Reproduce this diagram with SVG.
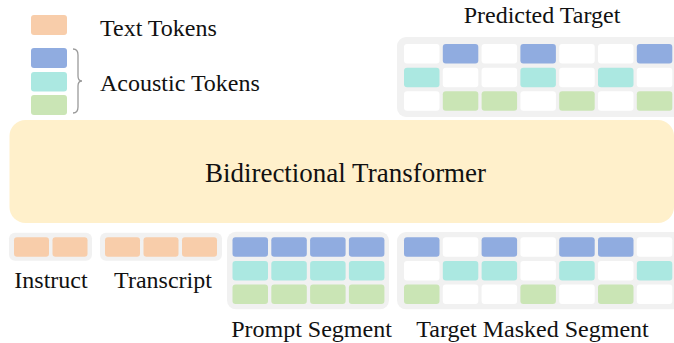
<svg xmlns="http://www.w3.org/2000/svg" width="674" height="343" viewBox="0 0 674 343">
<style>
.t{font-family:"Liberation Serif","Times New Roman",serif;font-size:24px;fill:#111}
.bg{fill:#F1F1F1}
.o{fill:#F8CDAA}
.b{fill:#90ACE0}
.y{fill:#ABE8E1}
.g{fill:#CAE5B5}
.w{fill:#FFFFFF}
</style>
<defs>
<rect id="cell" width="35.5" height="19.5" rx="3"/>
</defs>
<rect width="674" height="343" fill="#FFFFFF"/>

<g id="legend">
<rect x="31" y="15" width="36" height="20" rx="3" class="o"/>
<rect x="31" y="48" width="36" height="20" rx="3" class="b"/>
<rect x="31" y="72" width="36" height="19.5" rx="3" class="y"/>
<rect x="31" y="95" width="36" height="20" rx="3" class="g"/>
<path d="M73,49 Q78,49 78,55 L78,76 Q78,81 82,81 Q78,81 78,86 L78,107 Q78,113 73,113" fill="none" stroke="#9a9a9a" stroke-width="1.3"/>
<text class="t" x="100" y="35.7">Text Tokens</text>
<text class="t" x="100" y="90.7">Acoustic Tokens</text>
</g>

<g id="predicted-target">
<text class="t" x="542" y="22.5" text-anchor="middle">Predicted Target</text>
<rect x="397" y="37" width="290" height="80" rx="9" class="bg"/>
<use href="#cell" x="404" y="44" class="w"/>
<use href="#cell" x="442.8" y="44" class="b"/>
<use href="#cell" x="481.6" y="44" class="w"/>
<use href="#cell" x="520.4" y="44" class="b"/>
<use href="#cell" x="559.2" y="44" class="w"/>
<use href="#cell" x="598" y="44" class="w"/>
<use href="#cell" x="636.8" y="44" class="b"/>
<use href="#cell" x="404" y="67.7" class="y"/>
<use href="#cell" x="442.8" y="67.7" class="w"/>
<use href="#cell" x="481.6" y="67.7" class="w"/>
<use href="#cell" x="520.4" y="67.7" class="y"/>
<use href="#cell" x="559.2" y="67.7" class="w"/>
<use href="#cell" x="598" y="67.7" class="y"/>
<use href="#cell" x="636.8" y="67.7" class="w"/>
<use href="#cell" x="404" y="91.3" class="w"/>
<use href="#cell" x="442.8" y="91.3" class="g"/>
<use href="#cell" x="481.6" y="91.3" class="g"/>
<use href="#cell" x="520.4" y="91.3" class="w"/>
<use href="#cell" x="559.2" y="91.3" class="g"/>
<use href="#cell" x="598" y="91.3" class="w"/>
<use href="#cell" x="636.8" y="91.3" class="g"/>
</g>

<g id="transformer">
<rect x="9.5" y="120" width="664.5" height="103" rx="16" fill="#FFF0CB"/>
<text x="345.5" y="181.5" text-anchor="middle" style="font-family:'Liberation Serif','Times New Roman',serif;font-size:27px;fill:#111">Bidirectional Transformer</text>
</g>

<g id="instruct">
<rect x="9" y="232.7" width="83" height="28" rx="6" class="bg"/>
<rect x="14" y="237.3" width="35" height="19.5" rx="3" class="o"/>
<rect x="52.5" y="237.3" width="35" height="19.5" rx="3" class="o"/>
<text class="t" x="51" y="288.3" text-anchor="middle">Instruct</text>
</g>

<g id="transcript">
<rect x="100" y="232.7" width="122" height="28" rx="6" class="bg"/>
<rect x="105" y="237.3" width="35" height="19.5" rx="3" class="o"/>
<rect x="143.5" y="237.3" width="35" height="19.5" rx="3" class="o"/>
<rect x="182" y="237.3" width="35" height="19.5" rx="3" class="o"/>
<text class="t" x="163" y="288.3" text-anchor="middle">Transcript</text>
</g>

<g id="prompt-segment">
<rect x="227" y="231.7" width="162" height="77.6" rx="9" class="bg"/>
<use href="#cell" x="232.5" y="237.3" class="b"/>
<use href="#cell" x="271.3" y="237.3" class="b"/>
<use href="#cell" x="310.1" y="237.3" class="b"/>
<use href="#cell" x="348.9" y="237.3" class="b"/>
<use href="#cell" x="232.5" y="260.9" class="y"/>
<use href="#cell" x="271.3" y="260.9" class="y"/>
<use href="#cell" x="310.1" y="260.9" class="y"/>
<use href="#cell" x="348.9" y="260.9" class="y"/>
<use href="#cell" x="232.5" y="284.5" class="g"/>
<use href="#cell" x="271.3" y="284.5" class="g"/>
<use href="#cell" x="310.1" y="284.5" class="g"/>
<use href="#cell" x="348.9" y="284.5" class="g"/>
<text class="t" x="311.5" y="337.3" text-anchor="middle">Prompt Segment</text>
</g>

<g id="target-masked-segment">
<rect x="397" y="232" width="290" height="77.3" rx="9" class="bg"/>
<use href="#cell" x="404" y="237.3" class="b"/>
<use href="#cell" x="442.8" y="237.3" class="w"/>
<use href="#cell" x="481.6" y="237.3" class="b"/>
<use href="#cell" x="520.4" y="237.3" class="w"/>
<use href="#cell" x="559.2" y="237.3" class="b"/>
<use href="#cell" x="598" y="237.3" class="b"/>
<use href="#cell" x="636.8" y="237.3" class="w"/>
<use href="#cell" x="404" y="260.9" class="w"/>
<use href="#cell" x="442.8" y="260.9" class="y"/>
<use href="#cell" x="481.6" y="260.9" class="y"/>
<use href="#cell" x="520.4" y="260.9" class="w"/>
<use href="#cell" x="559.2" y="260.9" class="y"/>
<use href="#cell" x="598" y="260.9" class="w"/>
<use href="#cell" x="636.8" y="260.9" class="y"/>
<use href="#cell" x="404" y="284.5" class="g"/>
<use href="#cell" x="442.8" y="284.5" class="w"/>
<use href="#cell" x="481.6" y="284.5" class="w"/>
<use href="#cell" x="520.4" y="284.5" class="g"/>
<use href="#cell" x="559.2" y="284.5" class="w"/>
<use href="#cell" x="598" y="284.5" class="g"/>
<use href="#cell" x="636.8" y="284.5" class="w"/>
<text class="t" x="532.5" y="337.3" text-anchor="middle">Target Masked Segment</text>
</g>

<g id="connectors"></g>
</svg>
